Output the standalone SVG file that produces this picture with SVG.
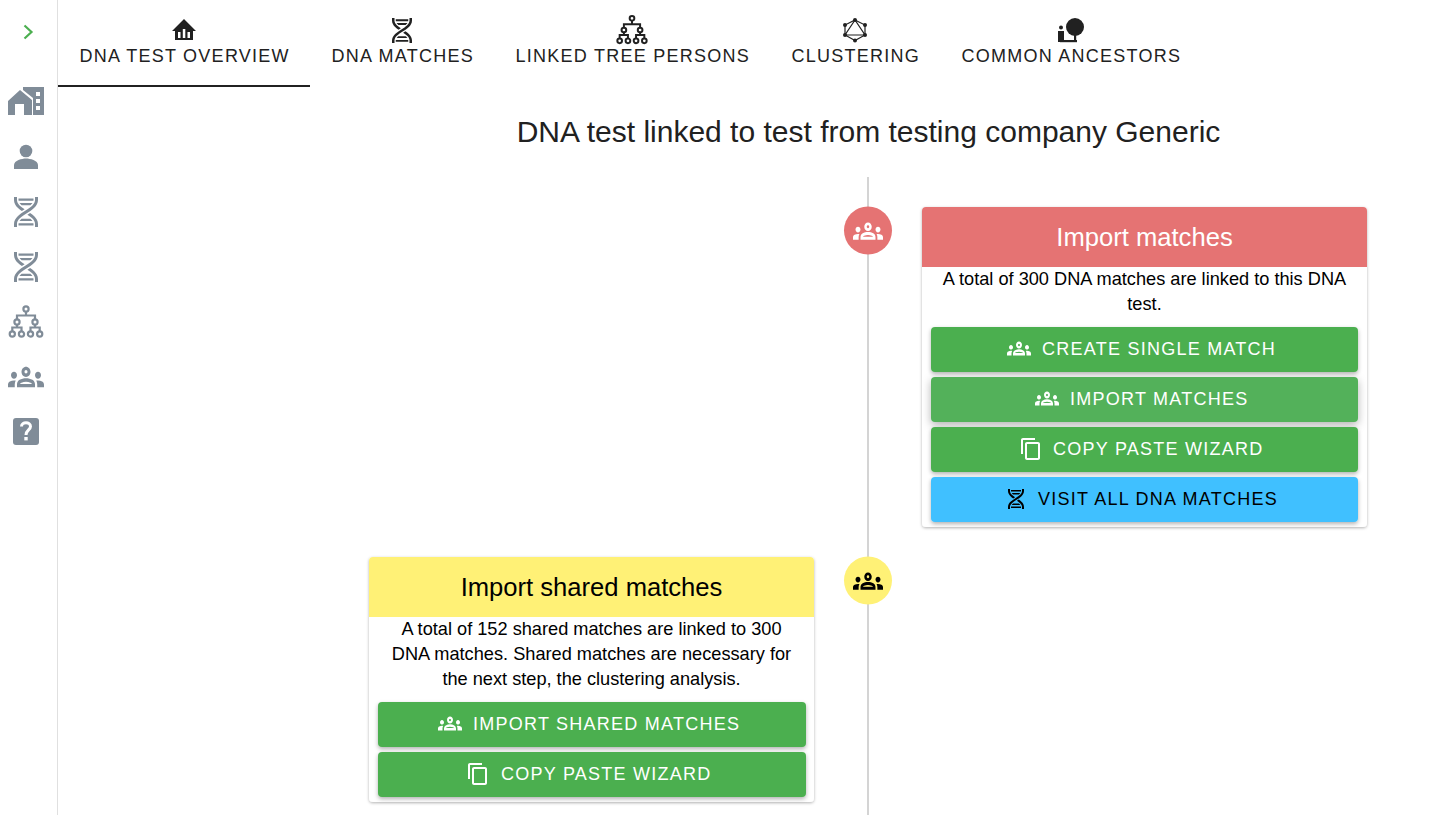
<svg xmlns="http://www.w3.org/2000/svg" width="1442" height="815" viewBox="0 0 1442 815">
<style>
text{font-family:"Liberation Sans",Arial,sans-serif}
.tab{font-size:18px;letter-spacing:1.25px;fill:#212121}
.btn{font-size:18px;letter-spacing:1.25px;fill:#fff}
.body{font-size:18.2px;fill:#000;text-anchor:middle}
.head{font-size:25.6px;text-anchor:middle}
.side{fill:#808c98}
.card{fill:#fff;filter:url(#s1)}
.b{filter:url(#s2)}
.g{fill:#4caf50}
.line{stroke:#d4d4d4;stroke-width:2;fill:none}
</style>
<defs>
<filter id="s1" x="-5%" y="-5%" width="110%" height="110%"><feDropShadow dx="0" dy="1" stdDeviation="1.5" flood-color="#000" flood-opacity=".3"/></filter>
<filter id="s2" x="-5%" y="-20%" width="110%" height="150%"><feDropShadow dx="0" dy="2" stdDeviation="2" flood-color="#000" flood-opacity=".3"/></filter>
<filter id="s3" x="-5%" y="-30%" width="110%" height="170%"><feDropShadow dx="0" dy="3" stdDeviation="4" flood-color="#000" flood-opacity=".3"/></filter>
<path id="groups" transform="translate(0,-1.8) scale(1,1.15)" d="M4,13c1.1,0,2-0.9,2-2c0-1.1-0.9-2-2-2s-2,0.9-2,2C2,12.1,2.9,13,4,13z M5.13,14.1C4.76,14.04,4.39,14,4,14c-0.99,0-1.93,0.21-2.78,0.58C0.48,14.9,0,15.62,0,16.43V18l4.5,0v-1.61C4.5,15.56,4.73,14.78,5.13,14.1z M20,13c1.1,0,2-0.9,2-2c0-1.1-0.9-2-2-2s-2,0.9-2,2C18,12.1,18.9,13,20,13z M24,16.43c0-0.81-0.48-1.53-1.22-1.85C21.93,14.21,20.99,14,20,14c-0.39,0-0.76,0.04-1.13,0.1c0.4,0.68,0.63,1.46,0.63,2.29V18l4.5,0V16.43z M16.24,13.65c-1.17-0.52-2.61-0.9-4.24-0.9c-1.63,0-3.07,0.39-4.24,0.9C6.68,14.13,6,15.21,6,16.39V18h12v-1.61C18,15.21,17.32,14.13,16.24,13.65z M8.07,16c0.09-0.23,0.13-0.39,0.91-0.69c0.97-0.38,1.99-0.56,3.02-0.56s2.05,0.18,3.02,0.56c0.77,0.3,0.81,0.46,0.91,0.69H8.07z M12,8c0.55,0,1,0.45,1,1s-0.45,1-1,1s-1-0.45-1-1S11.45,8,12,8 M12,6c-1.66,0-3,1.34-3,3c0,1.66,1.34,3,3,3s3-1.34,3-3C15,7.34,13.66,6,12,6L12,6z"/>
<path id="dna" d="M4,2H6V4C6,5.44 6.68,6.61 7.88,7.78C8.74,8.61 9.89,9.41 11.09,10.2L9.26,11.39C8.27,10.72 7.31,10 6.5,9.21C5.07,7.82 4,6.1 4,4V2M18,2H20V4C20,6.1 18.93,7.82 17.5,9.21C16.09,10.59 14.29,11.73 12.54,12.84C10.79,13.96 9.09,15.05 7.88,16.22C6.68,17.39 6,18.56 6,20V22H4V20C4,17.9 5.07,16.18 6.5,14.79C7.91,13.41 9.71,12.27 11.46,11.16C13.21,10.04 14.91,8.95 16.12,7.78C17.32,6.61 18,5.44 18,4V2M14.74,12.61C15.73,13.28 16.69,14 17.5,14.79C18.93,16.18 20,17.9 20,20V22H18V20C18,18.56 17.32,17.39 16.12,16.22C15.26,15.39 14.11,14.59 12.91,13.8L14.74,12.61M7,3H17V4L16.94,4.5H7.06L7,4V3M7.68,6H16.32C16.08,6.34 15.8,6.69 15.42,7.06L14.91,7.5H9.07L8.58,7.06C8.2,6.69 7.92,6.34 7.68,6M9.07,16.5H14.93L15.42,16.94C15.8,17.31 16.08,17.66 16.32,18H7.68C7.92,17.66 8.2,17.31 8.58,16.94L9.07,16.5M7.06,19.5H16.94L17,20V21H7V20L7.06,19.5Z"/>
<path id="copy" d="M16 1H4c-1.1 0-2 .9-2 2v14h2V3h12V1zm3 4H8c-1.1 0-2 .9-2 2v14c0 1.1.9 2 2 2h11c1.1 0 2-.9 2-2V7c0-1.1-.9-2-2-2zm0 16H8V7h11v14z"/>
<g id="tree" fill="none" stroke="currentColor" stroke-width="2.2">
<path d="M0,-10.5V-6.5M-9,-3V-6.5H9V-3M-9,3V5.5M-13.7,9.5V5.5H-4.5V9.5M9,3V5.5M4.5,9.5V5.5H13.7V9.5"/>
<circle cx="0" cy="-13" r="2.6"/><circle cx="-9" cy="0" r="2.6"/><circle cx="9" cy="0" r="2.6"/>
<circle cx="-13.7" cy="12" r="2.6"/><circle cx="-4.5" cy="12" r="2.6"/><circle cx="4.5" cy="12" r="2.6"/><circle cx="13.7" cy="12" r="2.6"/>
</g>
</defs>
<rect width="1442" height="815" fill="#fff"/>

<g id="sidebar">
<rect x="57" y="0" width="1" height="815" fill="#e0e0e0"/>
<path id="expand" d="M24.5,25.5L31.5,32L24.5,38.5" fill="none" stroke="#4caf50" stroke-width="2.2"/>
<g id="side-home" class="side">
<path d="M20,90L8,101V115H15V104H24V115H32V100Z"/>
<path fill-rule="evenodd" d="M23,87H44V115H33V98L23,90ZM36,92V96H40V92ZM36,99V103H40V99ZM36,106V110H40V106Z"/>
</g>
<g id="side-person" class="side"><circle cx="26" cy="151" r="6.3"/><path d="M14,169V165C14,160.5 22,158.5 26,158.5S38,160.5 38,165V169Z"/></g>
<use id="side-dna1" href="#dna" class="side" transform="translate(8,194) scale(1.5)"/>
<use id="side-dna2" href="#dna" class="side" transform="translate(8,249) scale(1.5)"/>
<use id="side-tree" href="#tree" color="#808c98" transform="translate(26,322)"/>
<use id="side-groups" href="#groups" class="side" transform="translate(8,359) scale(1.5)"/>
<g id="side-help"><rect x="13" y="418" width="26" height="27" rx="3" class="side"/><path d="M21.5,426.5C21.5,421.5 30.5,421.5 30.5,426.5C30.5,430 26,430 26,435" fill="none" stroke="#fff" stroke-width="3"/><rect x="24.3" y="437" width="3.4" height="3.4" fill="#fff"/></g>
</g>

<g id="tabs">
<g id="tab-overview">
<path d="M184,19L172,31H175V40H193V31H196Z" fill="#212121"/>
<path d="M178,32h2.5v6h-2.5zM182.8,29h2.5v9h-2.5zM187.5,32h2.5v6h-2.5z" fill="#fff"/>
<text class="tab" x="79.5" y="62">DNA TEST OVERVIEW</text>
<rect x="58" y="85" width="252" height="2" fill="#212121"/>
</g>
<g id="tab-matches"><use href="#dna" fill="#212121" transform="translate(387,15.5) scale(1.25)"/><text class="tab" x="331.5" y="62">DNA MATCHES</text></g>
<g id="tab-linked"><use href="#tree" color="#212121" transform="translate(632,30) scale(.9)"/><text class="tab" x="515.5" y="62">LINKED TREE PERSONS</text></g>
<g id="tab-clustering">
<g stroke="#212121" stroke-width="1.2" fill="none"><path d="M855,20L865,25V35L855,40.5L845,35V25Z"/><path d="M855,20L865,35H845Z"/></g>
<g fill="#212121"><circle cx="855" cy="20" r="2"/><circle cx="865" cy="25" r="2"/><circle cx="865" cy="35" r="2"/><circle cx="855" cy="40.5" r="2"/><circle cx="845" cy="35" r="2"/><circle cx="845" cy="25" r="2"/></g>
<text class="tab" x="791.5" y="62">CLUSTERING</text></g>
<g id="tab-ancestors">
<g fill="#212121"><circle cx="1075" cy="27" r="9"/><rect x="1074" y="30" width="2.2" height="12"/><rect x="1060" y="40" width="17" height="2.2"/><circle cx="1061" cy="27.5" r="2"/><rect x="1058" y="31" width="6" height="11"/></g>
<text class="tab" x="961.5" y="62">COMMON ANCESTORS</text></g>
</g>

<text id="title" x="868.5" y="142" font-size="30" fill="#212121" text-anchor="middle">DNA test linked to test from testing company Generic</text>

<g id="connectors"><path class="line" d="M868,177V815"/></g>

<g id="dot-import-matches"><circle cx="868" cy="230.5" r="24" fill="#e57373"/><use href="#groups" fill="#fff" transform="translate(853,216) scale(1.25)"/></g>
<g id="dot-shared-matches"><circle cx="868" cy="580.5" r="24" fill="#fff176"/><use href="#groups" fill="#000" transform="translate(853,566) scale(1.25)"/></g>

<g id="card-import-matches">
<rect class="card" x="922" y="207" width="445" height="320" rx="4"/>
<path d="M922,267V211a4,4 0 0 1 4,-4H1363a4,4 0 0 1 4,4V267Z" fill="#e57373"/>
<text class="head" x="1144.5" y="246" fill="#fff">Import matches</text>
<text class="body" x="1144.5" y="285">A total of 300 DNA matches are linked to this DNA</text>
<text class="body" x="1144.5" y="310">test.</text>
<g id="btn-create"><rect class="b g" x="931" y="327" width="427" height="45" rx="4"/><use href="#groups" fill="#fff" transform="translate(1007,336.5)"/><text class="btn" x="1042" y="355">CREATE SINGLE MATCH</text></g>
<g id="btn-import"><rect x="931" y="377" width="427" height="45" rx="4" fill="#52b15a" filter="url(#s3)"/><use href="#groups" fill="#fff" transform="translate(1035,386.5)"/><text class="btn" x="1070" y="405">IMPORT MATCHES</text></g>
<g id="btn-copy"><rect class="b g" x="931" y="427" width="427" height="45" rx="4"/><use href="#copy" fill="#fff" transform="translate(1019,437)"/><text class="btn" x="1053" y="455">COPY PASTE WIZARD</text></g>
<g id="btn-visit"><rect class="b" x="931" y="477" width="427" height="45" rx="4" fill="#40c0ff"/><use href="#dna" fill="#000" transform="translate(1004,487)"/><text class="btn" x="1038" y="505" style="fill:#000">VISIT ALL DNA MATCHES</text></g>
</g>

<g id="card-shared-matches">
<rect class="card" x="369" y="557" width="445" height="245" rx="4"/>
<path d="M369,617V561a4,4 0 0 1 4,-4H810a4,4 0 0 1 4,4V617Z" fill="#fff176"/>
<text class="head" x="591.5" y="596" fill="#000">Import shared matches</text>
<text class="body" x="591.5" y="635">A total of 152 shared matches are linked to 300</text>
<text class="body" x="591.5" y="660">DNA matches. Shared matches are necessary for</text>
<text class="body" x="591.5" y="685">the next step, the clustering analysis.</text>
<g id="btn-import-shared"><rect class="b g" x="378" y="702" width="428" height="45" rx="4"/><use href="#groups" fill="#fff" transform="translate(438,711.5)"/><text class="btn" x="473" y="730">IMPORT SHARED MATCHES</text></g>
<g id="btn-copy-shared"><rect class="b g" x="378" y="752" width="428" height="45" rx="4"/><use href="#copy" fill="#fff" transform="translate(466,762)"/><text class="btn" x="501" y="780">COPY PASTE WIZARD</text></g>
</g>
</svg>
